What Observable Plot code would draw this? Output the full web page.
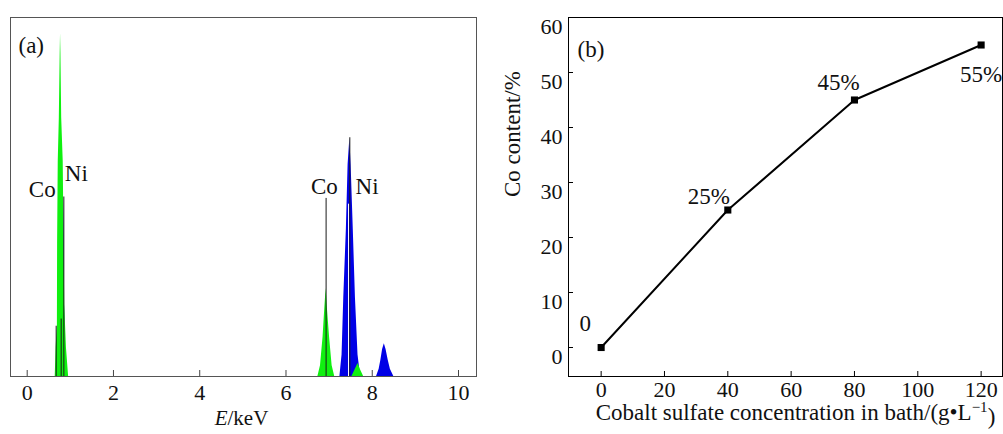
<!DOCTYPE html>
<html><head><meta charset="utf-8">
<script src="https://cdn.jsdelivr.net/npm/d3@7"></script>
<script src="https://cdn.jsdelivr.net/npm/@observablehq/plot@0.6"></script>
<style>
body{margin:0;background:#fff;}
#wrap{position:relative;width:1003px;height:434px;overflow:hidden;background:#fff;}
#a{position:absolute;left:0;top:0;}
#b{position:absolute;left:480px;top:0;}
#wrap svg text{font-family:"Liberation Serif","Times New Roman",serif !important;font-size:23px !important;fill:#111;}
#wrap svg g[aria-label$="axis"] text,
#wrap svg g[aria-label$="tick label"] text{font-size:22px !important;}
#wrap svg text.small{font-size:21px !important;}
</style></head><body><div id="wrap"><div id="a"></div><div id="b"></div></div>
<script>
const FONT = '"Liberation Serif","Times New Roman",serif';

// ---- Panel (a): EDS spectrum (energy keV, relative counts) ----
const blueE = [0.70,0.74,0.78,0.80,0.83,0.85,0.865,0.90,
               7.25,7.30,7.34,7.40,7.44,7.48,7.51,7.56,7.61,7.67,7.73,
               8.10,8.16,8.20,8.24,8.28,8.32,8.37,8.42,8.50];
const blueH = [0,2,3,6,20,50,20,0,
               0,6,22,41,59,66.2,59,41,22,6,0,
               0,2,4.5,7.5,9.1,7.5,4.5,2,0];
const greenE = [0.65,0.67,0.70,0.705,0.72,0.745,0.765,0.773,0.782,0.80,0.835,0.855,0.87,0.91,0.96,
                6.74,6.80,6.86,6.90,6.93,6.96,7.01,7.07,7.13,
                7.53,7.60,7.67,7.73,7.80];
const greenH = [0,8,14,37,60,72,90,95.5,90,72,60,37,20,8,0,
                0,3,11,19,24.5,19,11,3,0,
                0,1.8,3.6,1.8,0];
const lineE = [0.672,0.788,0.85,6.93,7.48];
const lineH = [14,16,50,49.6,66.5];
const gapE = [7.45];
const gapH = [48];
const peakNames = ["Co","Ni","Co","Ni"];
const peakNameE = [0.35,1.14,6.89,7.88];
const peakNameH = [52.1,56.5,52.9,52.9];
const ticksA = [0,2,4,6,8,10];

// ---- Panel (b): Co content vs cobalt sulfate concentration ----
const concentration = [0,40,80,120];
const coContent = [0,25,45,55];
const pointLabels = ["0","25%","45%","55%"];
const ticksBX = [0,20,40,60,80,100,120];
const ticksBY = [0,10,20,30,40,50,60];

const zip = (xs, ys) => xs.map((x,i)=>({x, y: ys[i]}));

const style = {fontFamily: FONT, fontSize: "22px", background: "white", color: "#111", overflow: "visible"};

const plotA = Plot.plot({
  width: 480, height: 434,
  marginLeft: 10, marginRight: 4, marginTop: 17, marginBottom: 58,
  x: {domain: [-0.387, 10.417], ticks: ticksA, tickSize: 0, tickPadding: 8, label: null},
  y: {domain: [0, 100], axis: null},
  style,
  marks: [
    Plot.areaY(zip(blueE, blueH), {x: "x", y: "y", fill: "#0000e6"}),
    Plot.areaY(zip(greenE, greenH), {x: "x", y: "y", fill: "#10f010"}),
    Plot.ruleX(zip(lineE, lineH), {x: "x", y1: 0, y2: "y", stroke: "#1a1a1a", strokeWidth: 1}),
    Plot.ruleX(zip(gapE, gapH), {x: "x", y1: 0, y2: "y", stroke: "white", strokeWidth: 1}),
    Plot.tickX(ticksA, {x: d => d, insetTop: 353, stroke: "#444"}),
    Plot.frame({stroke: "#555"}),
    Plot.text(peakNames.map((t,i)=>({t, x: peakNameE[i], y: peakNameH[i]})), {x: "x", y: "y", text: "t"}),
    Plot.text(["(a)"], {frameAnchor: "top-left", textAnchor: "start", dx: 8, dy: 19}),
    Plot.text(["E"], {frameAnchor: "bottom", textAnchor: "end", fontStyle: "italic", dx: -16, dy: 48}),
    Plot.text(["/keV"], {frameAnchor: "bottom", textAnchor: "start", dx: -16, dy: 48})
  ]
});
document.getElementById("a").append(plotA);

const pts = zip(concentration, coContent);
const labelMark = (i, dx, dy) => Plot.text([i], {x: j => concentration[j], y: j => coContent[j], text: j => pointLabels[j], dx, dy});

const plotB = Plot.plot({
  width: 523, height: 434,
  marginLeft: 88, marginRight: 1, marginTop: 17, marginBottom: 58,
  x: {domain: [-10.31, 126.75], ticks: ticksBX, tickSize: 0, tickPadding: 5, label: null},
  y: {domain: [-5.27, 60], ticks: ticksBY, tickSize: 0, tickPadding: 6, label: null},
  style,
  marks: [
    Plot.line(pts, {x: "x", y: "y", stroke: "black", strokeWidth: 2}),
    Plot.dot(pts, {x: "x", y: "y", symbol: "square", r: 4, fill: "black"}),
    labelMark(0, -16, -24),
    labelMark(1, -19, -13),
    labelMark(2, -16, -17),
    labelMark(3, 0, 30),
    Plot.tickX(ticksBX, {x: d => d, insetTop: 354, stroke: "black"}),
    Plot.tickY(ticksBY, {y: d => d, insetRight: 429, stroke: "black"}),
    Plot.frame({stroke: "black"}),
    Plot.text(["(b)"], {frameAnchor: "top-left", textAnchor: "start", dx: 9, dy: 23}),
    Plot.text(["Co content/%"], {frameAnchor: "left", rotate: -90, dx: -56}),
    Plot.text(["Cobalt sulfate concentration in bath/(g•L⁻¹)"], {frameAnchor: "bottom", dx: 10, dy: 43})
  ]
});
document.getElementById("b").append(plotB);

// "E/keV" pieces are drawn at a slightly smaller size
d3.select(plotA).selectAll("text").filter(function() { return this.textContent === "/keV" || this.textContent === "E"; }).classed("small", true);
// y tick labels sit a little below their ticks in the reference
d3.select(plotB).selectAll("g[aria-label='y-axis'] text, g[aria-label='y-axis tick label'] text").attr("dy", "0.45em");
// typeset the superscript −1 in the x-axis title
d3.select(plotB).selectAll("text")
  .filter(function() { return this.textContent.startsWith("Cobalt"); })
  .each(function() {
    const t = d3.select(this);
    t.text(null);
    t.append("tspan").text("Cobalt sulfate concentration in bath/(g•L");
    t.append("tspan").attr("dy", "-0.5em").style("font-size", "15px").text("−1");
    t.append("tspan").attr("dy", "0.5em").text(")");
  });
</script>
</body></html>
